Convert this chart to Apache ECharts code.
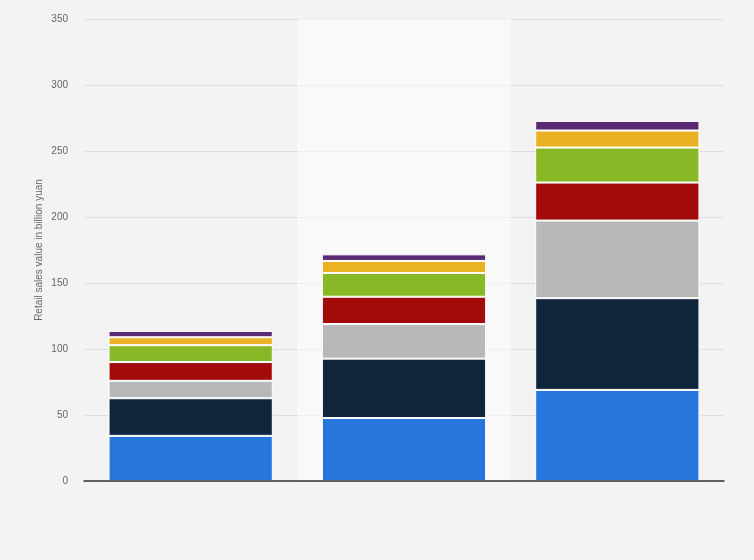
<!DOCTYPE html>
<html>
<head>
<meta charset="utf-8">
<script src="https://cdn.jsdelivr.net/npm/echarts@6/dist/echarts.min.js"></script>
<style>
  html, body { margin: 0; padding: 0; background: #f3f3f3; }
  #chart { width: 754px; height: 560px; }
</style>
</head>
<body>
<div id="chart"></div>
<script>
// three periods, labels not shown on the reference
const categories = ["Period 1", "Period 2", "Period 3"];

// stacked segments, bottom to top (billion yuan)
const seg1 = [34.2, 47.7, 69.0];
const seg2 = [28.5, 45.0, 69.5];
const seg3 = [13.2, 26.2, 58.8];
const seg4 = [14.2, 20.7, 28.8];
const seg5 = [12.8, 18.0, 26.5];
const seg6 = [6.0, 9.1, 12.9];
const seg7 = [4.8, 5.0, 7.3];

const segments = [seg1, seg2, seg3, seg4, seg5, seg6, seg7];
const colors = ["#2876dd", "#0f253c", "#b8b8b8", "#a30a0a", "#88b825", "#ebb125", "#5b2a75"];

const chart = echarts.init(document.getElementById("chart"));

const option = {
  animation: false,
  backgroundColor: "#f3f3f3",
  grid: { left: 84, right: 30, top: 19, bottom: 79 },
  tooltip: {
    trigger: "axis",
    showContent: false,
    axisPointer: { type: "shadow", z: 1, shadowStyle: { color: "rgba(255,255,255,0.5)" } },
  },
  xAxis: {
    type: "category",
    data: categories,
    z: 4,
    axisLine: { lineStyle: { color: "#333", width: 1.5 } },
    axisTick: { show: false },
    axisLabel: { show: false },
  },
  yAxis: {
    type: "value",
    min: 0,
    max: 350,
    interval: 50,
    name: "Retail sales value in billion yuan",
    nameLocation: "middle",
    nameGap: 40,
    nameMoveOverlap: false,
    nameTextStyle: { color: "#666", fontSize: 10, fontFamily: "Arial, Liberation Sans, sans-serif" },
    axisLine: { show: false },
    axisTick: { show: false },
    axisLabel: { color: "#666", fontSize: 10, margin: 16, fontFamily: "Arial, Liberation Sans, sans-serif" },
    splitLine: { lineStyle: { color: "#c8c8c8", type: [1, 1] } },
  },
  series: segments.map((vals, i) => ({
    type: "bar",
    stack: "total",
    data: vals,
    barWidth: "77%",
    z: 3,
    itemStyle: { color: colors[i], borderColor: "#fff", borderWidth: 1 },
    emphasis: { disabled: true },
  })),
};

chart.setOption(option);
chart.dispatchAction({ type: "showTip", seriesIndex: 0, dataIndex: 1 });
</script>
</body>
</html>
